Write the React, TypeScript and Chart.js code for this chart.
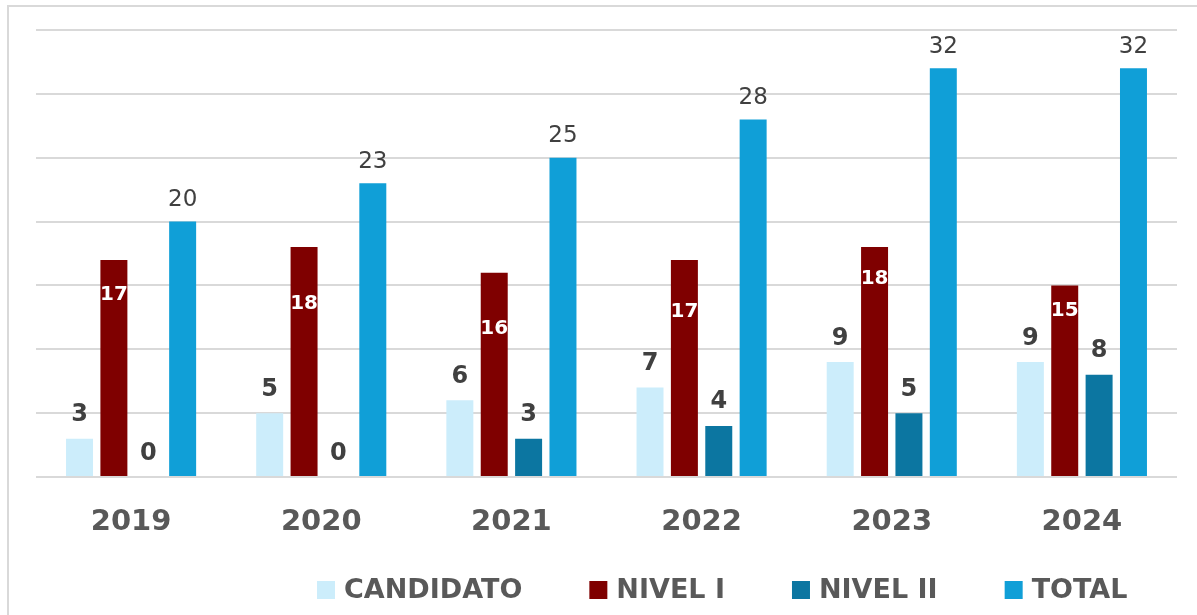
import React, { useEffect, useRef } from "react";
import { Chart, registerables } from "chart.js";

Chart.register(...registerables);

const categories = ["2019", "2020", "2021", "2022", "2023", "2024"];
const seriesNames = ["CANDIDATO", "NIVEL I", "NIVEL II", "TOTAL"];
const candidato = [3, 5, 6, 7, 9, 9];
const nivel1 = [17, 18, 16, 17, 18, 15];
const nivel2 = [0, 0, 3, 4, 5, 8];
const total = [20, 23, 25, 28, 32, 32];
const yTicks = [0, 5, 10, 15, 20, 25, 30, 35];

const colors = ["#CCEDFB", "#7F0000", "#0C76A1", "#109FD7"];
// how far below the bar top the white NIVEL I labels sit (px)
const nivel1LabelDrop = [33, 55, 54, 50, 30, 23];

const FONT = "'DejaVu Sans', sans-serif";

const framePlugin = {
  id: "frame",
  beforeDraw(chart: any) {
    const ctx = chart.ctx;
    ctx.save();
    ctx.strokeStyle = "#d9d9d9";
    ctx.lineWidth = 2;
    ctx.beginPath();
    ctx.moveTo(8, chart.height);
    ctx.lineTo(8, 6);
    ctx.lineTo(chart.width, 6);
    ctx.stroke();
    ctx.restore();
  },
};

const labelPlugin = {
  id: "valueLabels",
  afterDatasetsDraw(chart: any) {
    const ctx = chart.ctx;
    ctx.save();
    ctx.textAlign = "center";
    ctx.textBaseline = "alphabetic";
    chart.data.datasets.forEach((ds: any, di: number) => {
      const meta = chart.getDatasetMeta(di);
      meta.data.forEach((bar: any, i: number) => {
        const v = ds.data[i];
        const txt = String(v);
        if (di === 1) {
          ctx.font = `bold 20px ${FONT}`;
          ctx.fillStyle = "#ffffff";
          ctx.fillText(txt, bar.x, bar.y + nivel1LabelDrop[i] + 7.3);
        } else if (di === 3) {
          ctx.font = `23px ${FONT}`;
          ctx.fillStyle = "#404040";
          ctx.fillText(txt, bar.x, bar.y - 15.6);
        } else {
          ctx.font = `bold 24px ${FONT}`;
          ctx.fillStyle = "#404040";
          ctx.fillText(txt, bar.x, bar.y - 17.5);
        }
      });
    });
    ctx.restore();
  },
};

const legendPlugin = {
  id: "customLegend",
  afterDraw(chart: any) {
    const ctx = chart.ctx;
    ctx.save();
    ctx.font = `bold 27px ${FONT}`;
    ctx.textBaseline = "middle";
    ctx.textAlign = "left";
    let x = 317;
    const cy = 590;
    const box = 18;
    chart.data.datasets.forEach((ds: any) => {
      ctx.fillStyle = ds.backgroundColor;
      ctx.fillRect(x, cy - box / 2, box, box);
      ctx.fillStyle = "#595959";
      const tx = x + box + 9;
      ctx.fillText(ds.label, tx, cy + 1);
      const w = ctx.measureText(ds.label).width;
      x = tx + w + 67;
    });
    ctx.restore();
  },
};

export default function App() {
  const ref = useRef<HTMLCanvasElement | null>(null);

  useEffect(() => {
    document.body.style.margin = "0";
    document.body.style.overflow = "hidden";
    if (!ref.current) return;
    const seriesData = [candidato, nivel1, nivel2, total];
    const chart = new Chart(ref.current, {
      type: "bar",
      data: {
        labels: categories,
        datasets: seriesNames.map((name, i) => ({
          label: name,
          data: seriesData[i],
          backgroundColor: colors[i],
          borderWidth: 0,
          barPercentage: 0.785,
          categoryPercentage: 0.723,
        })),
      },
      options: {
        responsive: false,
        animation: false,
        layout: { padding: { left: 36, right: 20, top: 30, bottom: 0 } },
        plugins: {
          legend: { display: false },
          tooltip: { enabled: false },
        },
        scales: {
          x: {
            grid: { display: false, drawTicks: false },
            border: { display: false },
            ticks: {
              color: "#595959",
              font: { family: FONT, size: 29, weight: "bold" },
              padding: 28,
            },
            afterFit(scale: any) {
              scale.height = 138;
            },
          },
          y: {
            min: yTicks[0],
            max: yTicks[yTicks.length - 1],
            grid: { color: "#d9d9d9", lineWidth: 2, drawTicks: false },
            border: { display: false },
            ticks: { display: false, stepSize: 5 },
            afterFit(scale: any) {
              scale.width = 0;
            },
          },
        },
      },
      plugins: [framePlugin, labelPlugin, legendPlugin],
    });
    return () => chart.destroy();
  }, []);

  return (
    <div style={{ width: 1197, height: 615, position: "relative", background: "#fff" }}>
      <canvas ref={ref} width={1197} height={615} />
    </div>
  );
}
